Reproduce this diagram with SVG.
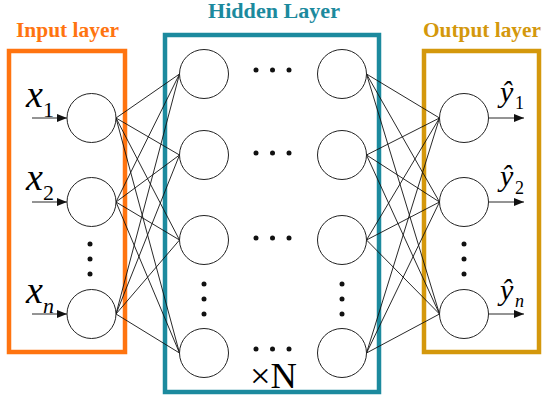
<svg xmlns="http://www.w3.org/2000/svg" width="550" height="402" viewBox="0 0 550 402">
<style>
.node{fill:#fff;stroke:#222;stroke-width:1}
.conn line{stroke:#111;stroke-width:0.9}
.arr{stroke:#111;stroke-width:1;marker-end:url(#ah)}
.title{font-family:"Liberation Serif",serif;font-weight:bold;font-size:21px}
.var{font-family:"Liberation Serif",serif;font-style:italic}
.sub{font-family:"Liberation Serif",serif}
.dot{fill:#111}
</style>
<defs>
<marker id="ah" viewBox="0 0 10 8" refX="10" refY="4" markerWidth="10" markerHeight="8" markerUnits="userSpaceOnUse" orient="auto">
<path d="M0,0 L10,4 L0,8 Z" fill="#111"/>
</marker>
</defs>
<rect width="550" height="402" fill="#fff"/>

<g id="input-layer">
<rect x="9" y="51" width="116" height="301" fill="none" stroke="#FF7410" stroke-width="4.5"/>
<text class="title" x="16" y="37" fill="#FF7410" textLength="103" lengthAdjust="spacingAndGlyphs">Input layer</text>
</g>
<g id="hidden-layer">
<rect x="165" y="35" width="214" height="357" fill="none" stroke="#1C8A9E" stroke-width="4.5"/>
<text class="title" x="208" y="18" fill="#1C8A9E" textLength="132" lengthAdjust="spacingAndGlyphs">Hidden Layer</text>
</g>
<g id="output-layer">
<rect x="424" y="51" width="115" height="301" fill="none" stroke="#D4980C" stroke-width="4.5"/>
<text class="title" x="423" y="37" fill="#D4980C" textLength="118" lengthAdjust="spacingAndGlyphs">Output layer</text>
</g>

<g id="connectors" class="conn">
<line x1="116" y1="118" x2="179.5" y2="74"/><line x1="116" y1="118" x2="179.5" y2="155"/><line x1="116" y1="118" x2="179.5" y2="240"/><line x1="116" y1="118" x2="179.5" y2="353"/>
<line x1="116" y1="202" x2="179.5" y2="74"/><line x1="116" y1="202" x2="179.5" y2="155"/><line x1="116" y1="202" x2="179.5" y2="240"/><line x1="116" y1="202" x2="179.5" y2="353"/>
<line x1="116" y1="314" x2="179.5" y2="74"/><line x1="116" y1="314" x2="179.5" y2="155"/><line x1="116" y1="314" x2="179.5" y2="240"/><line x1="116" y1="314" x2="179.5" y2="353"/>
<line x1="366.5" y1="74" x2="439.5" y2="118"/><line x1="366.5" y1="74" x2="439.5" y2="202"/><line x1="366.5" y1="74" x2="439.5" y2="314"/>
<line x1="366.5" y1="155" x2="439.5" y2="118"/><line x1="366.5" y1="155" x2="439.5" y2="202"/><line x1="366.5" y1="155" x2="439.5" y2="314"/>
<line x1="366.5" y1="240" x2="439.5" y2="118"/><line x1="366.5" y1="240" x2="439.5" y2="202"/><line x1="366.5" y1="240" x2="439.5" y2="314"/>
<line x1="366.5" y1="353" x2="439.5" y2="118"/><line x1="366.5" y1="353" x2="439.5" y2="202"/><line x1="366.5" y1="353" x2="439.5" y2="314"/>
<line class="arr" x1="32" y1="118" x2="67" y2="118"/>
<line class="arr" x1="32" y1="202" x2="67" y2="202"/>
<line class="arr" x1="32" y1="314" x2="67" y2="314"/>
<line class="arr" x1="489" y1="118" x2="524" y2="118"/>
<line class="arr" x1="489" y1="202" x2="524" y2="202"/>
<line class="arr" x1="489" y1="314" x2="524" y2="314"/>
</g>

<g id="in1"><circle class="node" cx="91.5" cy="118" r="24.5"/><text x="26" y="107"><tspan class="var" font-size="38">x</tspan><tspan class="sub" font-size="22" x="43" y="117">1</tspan></text></g>
<g id="in2"><circle class="node" cx="91.5" cy="202" r="24.5"/><text x="26" y="190"><tspan class="var" font-size="38">x</tspan><tspan class="sub" font-size="22" x="43" y="200">2</tspan></text></g>
<g id="in-dots"><circle class="dot" cx="90" cy="244" r="2.5"/><circle class="dot" cx="90" cy="259" r="2.5"/><circle class="dot" cx="90" cy="274" r="2.5"/></g>
<g id="inn"><circle class="node" cx="91.5" cy="314" r="24.5"/><text x="26" y="303"><tspan class="var" font-size="38">x</tspan><tspan class="var" font-size="22" x="43" y="313">n</tspan></text></g>

<g id="h11"><circle class="node" cx="204" cy="74" r="24.5"/></g>
<g id="h12"><circle class="node" cx="204" cy="155" r="24.5"/></g>
<g id="h13"><circle class="node" cx="204" cy="240" r="24.5"/></g>
<g id="h14"><circle class="node" cx="204" cy="353" r="24.5"/></g>
<g id="h21"><circle class="node" cx="342" cy="74" r="24.5"/></g>
<g id="h22"><circle class="node" cx="342" cy="155" r="24.5"/></g>
<g id="h23"><circle class="node" cx="342" cy="240" r="24.5"/></g>
<g id="h24"><circle class="node" cx="342" cy="353" r="24.5"/></g>
<g id="hidden-dots">
<circle class="dot" cx="256" cy="70" r="2.5"/><circle class="dot" cx="272.5" cy="70" r="2.5"/><circle class="dot" cx="289" cy="70" r="2.5"/>
<circle class="dot" cx="256" cy="153" r="2.5"/><circle class="dot" cx="272.5" cy="153" r="2.5"/><circle class="dot" cx="289" cy="153" r="2.5"/>
<circle class="dot" cx="256" cy="238" r="2.5"/><circle class="dot" cx="272.5" cy="238" r="2.5"/><circle class="dot" cx="289" cy="238" r="2.5"/>
<circle class="dot" cx="256" cy="349" r="2.5"/><circle class="dot" cx="272.5" cy="349" r="2.5"/><circle class="dot" cx="289" cy="349" r="2.5"/>
<circle class="dot" cx="204" cy="284" r="2.5"/><circle class="dot" cx="204" cy="299" r="2.5"/><circle class="dot" cx="204" cy="314" r="2.5"/>
<circle class="dot" cx="342" cy="284" r="2.5"/><circle class="dot" cx="342" cy="299" r="2.5"/><circle class="dot" cx="342" cy="314" r="2.5"/>
</g>
<text x="250" y="388" font-family="Liberation Serif, serif" font-size="35" textLength="47" lengthAdjust="spacingAndGlyphs">×N</text>

<g id="out1"><circle class="node" cx="464" cy="118" r="24.5"/><text x="500" y="102"><tspan class="var" font-size="30">ŷ</tspan><tspan class="sub" font-size="18" x="515" y="109">1</tspan></text></g>
<g id="out2"><circle class="node" cx="464" cy="202" r="24.5"/><text x="500" y="186"><tspan class="var" font-size="30">ŷ</tspan><tspan class="sub" font-size="18" x="515" y="194">2</tspan></text></g>
<g id="out-dots"><circle class="dot" cx="464" cy="244" r="2.5"/><circle class="dot" cx="464" cy="259" r="2.5"/><circle class="dot" cx="464" cy="274" r="2.5"/></g>
<g id="outn"><circle class="node" cx="464" cy="314" r="24.5"/><text x="500" y="300"><tspan class="var" font-size="30">ŷ</tspan><tspan class="var" font-size="18" x="515" y="307">n</tspan></text></g>
</svg>
